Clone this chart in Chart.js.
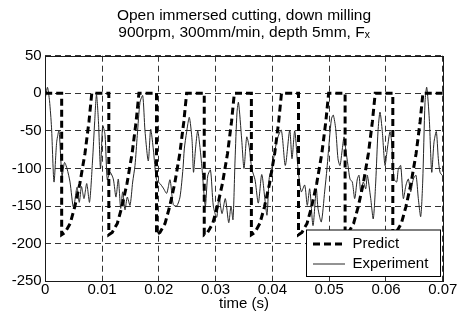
<!DOCTYPE html>
<html>
<head>
<meta charset="utf-8">
<script src="https://cdn.jsdelivr.net/npm/chart.js@4.4.1/dist/chart.umd.min.js"></script>
<style>
html,body{margin:0;padding:0;background:#fff;}
#wrap{width:464px;height:321px;position:relative;}
</style>
</head>
<body>
<div id="wrap"><canvas id="c" width="464" height="321"></canvas></div>
<script>
// ---- text ----
const titleLines = ['Open immersed cutting, down milling', '900rpm, 300mm/min, depth 5mm, F\u2093'];
const xAxisTitle = 'time (s)';
const seriesNames = ['Predict', 'Experiment'];

// ---- ticks ----
const xTicks = [0, 0.01, 0.02, 0.03, 0.04, 0.05, 0.06, 0.07];
const xTickLabels = ['0', '0.01', '0.02', '0.03', '0.04', '0.05', '0.06', '0.07'];
const yTicks = [-250, -200, -150, -100, -50, 0, 50];
const yTickLabels = ['-250', '-200', '-150', '-100', '-50', '0', '50'];

// ---- Predict (time s, force N) ----
const predT = [
  0, 0.0029, 0.0029, 0.0035, 0.0044, 0.0052, 0.0061, 0.0070, 0.0077, 0.0082,
  0.0112, 0.0112, 0.0118, 0.0127, 0.0135, 0.0144, 0.0153, 0.0160, 0.0165,
  0.0196, 0.0196, 0.0202, 0.0211, 0.0219, 0.0228, 0.0237, 0.0244, 0.0249,
  0.0280, 0.0280, 0.0286, 0.0295, 0.0303, 0.0312, 0.0321, 0.0328, 0.0333,
  0.0363, 0.0363, 0.0369, 0.0378, 0.0386, 0.0395, 0.0404, 0.0411, 0.0416,
  0.0446, 0.0446, 0.0452, 0.0461, 0.0469, 0.0478, 0.0487, 0.0494, 0.0499,
  0.0528, 0.0528, 0.0534, 0.0543, 0.0551, 0.0560, 0.0569, 0.0576, 0.0581,
  0.0612, 0.0612, 0.0618, 0.0627, 0.0635, 0.0644, 0.0653, 0.0660, 0.0665,
  0.0700
];
const predF = [
  0, 0, -188, -185, -173, -151, -120, -80, -38, 0,
  0, -188, -185, -173, -151, -120, -80, -38, 0,
  0, -188, -185, -173, -151, -120, -80, -38, 0,
  0, -188, -185, -173, -151, -120, -80, -38, 0,
  0, -188, -185, -173, -151, -120, -80, -38, 0,
  0, -188, -185, -173, -151, -120, -80, -38, 0,
  0, -188, -185, -173, -151, -120, -80, -38, 0,
  0, -188, -185, -173, -151, -120, -80, -38, 0,
  0
];

// ---- Experiment (time s, force N) ----
const expT = [
  0.00005, 0.00040, 0.00076, 0.00111, 0.00155, 0.00202, 0.00243, 0.00296, 0.00340, 0.00384,
  0.00437, 0.00498, 0.00560, 0.00600, 0.00639, 0.00683, 0.00731, 0.00780, 0.00833, 0.00871,
  0.00903, 0.00938, 0.00974, 0.01012, 0.01053, 0.01093, 0.01141, 0.01199, 0.01246, 0.01287,
  0.01329, 0.01364, 0.01405, 0.01445, 0.01493, 0.01540, 0.01581, 0.01621, 0.01669, 0.01717,
  0.01757, 0.01815, 0.01857, 0.01903, 0.01960, 0.02021, 0.02079, 0.02139, 0.02197, 0.02255,
  0.02315, 0.02373, 0.02426, 0.02449, 0.02491, 0.02537, 0.02585, 0.02611, 0.02646, 0.02685,
  0.02725, 0.02761, 0.02819, 0.02861, 0.02910, 0.02960, 0.03019, 0.03060, 0.03113, 0.03171,
  0.03231, 0.03271, 0.03306, 0.03342, 0.03377, 0.03403, 0.03460, 0.03500, 0.03548, 0.03593,
  0.03636, 0.03694, 0.03752, 0.03812, 0.03870, 0.03905, 0.03945, 0.03988, 0.04037, 0.04081,
  0.04157, 0.04227, 0.04305, 0.04345, 0.04393, 0.04451, 0.04509, 0.04569, 0.04614, 0.04657,
  0.04715, 0.04773, 0.04803, 0.04861, 0.04921, 0.04961, 0.05005, 0.05040, 0.05072, 0.05114,
  0.05155, 0.05190, 0.05231, 0.05261, 0.05290, 0.05331, 0.05366, 0.05407, 0.05449, 0.05495,
  0.05525, 0.05555, 0.05600, 0.05643, 0.05671, 0.05731, 0.05776, 0.05819, 0.05859, 0.05894,
  0.05935, 0.05982, 0.06023, 0.06070, 0.06100, 0.06141, 0.06188, 0.06217, 0.06259, 0.06305,
  0.06352, 0.06393, 0.06435, 0.06481, 0.06528, 0.06569, 0.06611, 0.06646, 0.06687, 0.06717,
  0.06762, 0.06805, 0.06845, 0.06886, 0.06921, 0.06951, 0.07000
];
const expF = [
  -5, 8, -10, -45, -118, -65, -50, -110, -92, -100,
  -118, -152, -125, -145, -124, -140, -120, -145, -90, -38,
  -2, -38, -100, -43, -55, -115, -105, -114, -138, -114,
  -153, -131, -155, -138, -149, -118, -96, -56, -12, -3,
  -50, -90, -48, -74, -115, -120, -126, -133, -115, -148,
  -150, -138, -100, -74, -51, -32, -62, -105, -74, -50,
  -72, -100, -150, -110, -102, -150, -165, -138, -160, -140,
  -172, -150, -168, -90, -25, -12, -62, -100, -58, -72,
  -100, -115, -146, -108, -142, -162, -112, -100, -80, -62,
  -49, -96, -49, -87, -50, -100, -131, -122, -149, -127,
  -176, -127, -153, -171, -130, -100, -60, -34, -29, -47,
  -87, -96, -74, -58, -74, -96, -114, -118, -140, -114,
  -109, -131, -118, -127, -109, -140, -167, -118, -51, -25,
  -51, -96, -74, -51, -65, -114, -118, -101, -96, -140,
  -122, -114, -131, -114, -109, -140, -164, -118, -12, 8,
  -34, -105, -65, -51, -87, -105, -110
];

const FONT = "'Liberation Sans', Arial, Helvetica, sans-serif";

const framePlugin = {
  id: 'frame',
  beforeLayout(chart) {
    const lg = chart.legend;
    if (lg && !lg._onTop) {
      lg._onTop = true;
      lg._layers = function () {
        return [{
          z: 10,
          draw: () => {
            const a = chart.chartArea;
            const c = chart.ctx;
            const r = Math.round(a.right - 3.3) + 0.5;
            const b = Math.round(a.bottom - 5.6) + 0.5;
            c.save();
            c.fillStyle = '#fff';
            c.fillRect(r - 134, b - 46.5, 134, 46.5);
            c.strokeStyle = '#000';
            c.lineWidth = 1;
            c.strokeRect(r - 134, b - 46.5, 134, 46.5);
            c.restore();
            lg.draw(a);
          }
        }];
      };
    }
  },
  afterLayout(chart) {
    const a = chart.chartArea;
    const tb = chart.titleBlock;
    if (tb) {
      tb.left = a.left;
      tb.right = a.right;
      tb.width = a.right - a.left;
    }
    const lg = chart.legend;
    if (!lg) return;
    const h = lg.height;
    lg.left = a.right - 134.8;
    lg.right = lg.left + 140;
    lg.top = a.bottom - 49.8;
    lg.bottom = lg.top + Math.max(h, 60);
  },
  afterDatasetsDraw(chart) {
    const a = chart.chartArea;
    const c = chart.ctx;
    c.save();
    c.strokeStyle = '#1a1a1a';
    c.lineWidth = 1;
    const l = Math.round(a.left) + 0.5, t = Math.round(a.top) + 0.5;
    const r = Math.round(a.right) + 0.5, b = Math.round(a.bottom) + 0.5;
    c.strokeRect(l, t, r - l, b - t);
    c.restore();
  }
};

new Chart(document.getElementById('c'), {
  type: 'line',
  data: {
    datasets: [
      {
        label: seriesNames[0],
        data: predT.map((t, i) => ({ x: t, y: predF[i] })),
        borderColor: '#000',
        backgroundColor: '#000',
        borderWidth: 3,
        borderDash: [7, 4],
        pointRadius: 0,
        tension: 0,
        fill: false
      },
      {
        label: seriesNames[1],
        data: expT.map((t, i) => ({ x: t, y: expF[i] })),
        borderColor: '#262626',
        backgroundColor: '#262626',
        borderWidth: 1,
        pointRadius: 0,
        tension: 0.25,
        fill: false
      }
    ]
  },
  options: {
    responsive: false,
    animation: false,
    devicePixelRatio: 1,
    layout: { padding: { left: 0, right: 21.2, top: 0, bottom: 0 } },
    plugins: {
      tooltip: { enabled: false },
      title: {
        display: true,
        text: titleLines,
        color: '#000',
        font: { family: FONT, size: 15.5, weight: 'normal', lineHeight: 1.097 },
        padding: { top: 7, bottom: 14.7 }
      },
      legend: {
        display: true,
        position: 'chartArea',
        align: 'start',
        labels: {
          color: '#000',
          font: { family: FONT, size: 15 },
          usePointStyle: true,
          pointStyle: 'line',
          pointStyleWidth: 32,
          padding: 5,
          generateLabels: (chart) => {
            const items = Chart.defaults.plugins.legend.labels.generateLabels(chart);
            items.forEach(it => {
              const ds = chart.data.datasets[it.datasetIndex];
              it.lineDash = ds.borderDash || [];
              it.lineWidth = ds.borderWidth;
              it.strokeStyle = ds.borderColor;
              it.fillStyle = ds.borderColor;
              it.pointStyle = 'line';
            });
            return items;
          }
        }
      }
    },
    scales: {
      x: {
        type: 'linear',
        min: 0,
        max: 0.07,
        afterFit: s => { s.height = 39.7; },
        afterBuildTicks: s => { s.ticks = xTicks.map(v => ({ value: v })); },
        ticks: {
          color: '#000',
          font: { family: FONT, size: 15 },
          padding: 0,
          maxRotation: 0,
          autoSkip: false,
          callback: (v, i) => xTickLabels[i]
        },
        grid: { color: '#333', lineWidth: 1, drawTicks: false },
        border: { display: false, dash: [6, 4] },
        title: {
          display: true,
          text: xAxisTitle,
          color: '#000',
          font: { family: FONT, size: 15, lineHeight: 1.2 },
          padding: { top: 0, bottom: 8 }
        }
      },
      y: {
        type: 'linear',
        min: -250,
        max: 50,
        afterFit: s => { s.width = 45.2; },
        afterBuildTicks: s => { s.ticks = yTicks.map(v => ({ value: v })); },
        ticks: {
          color: '#000',
          font: { family: FONT, size: 15 },
          padding: 3.5,
          autoSkip: false,
          callback: (v, i) => yTickLabels[i]
        },
        grid: { color: '#333', lineWidth: 1, drawTicks: false },
        border: { display: false, dash: [6, 4] }
      }
    }
  },
  plugins: [framePlugin]
});
</script>
</body>
</html>
